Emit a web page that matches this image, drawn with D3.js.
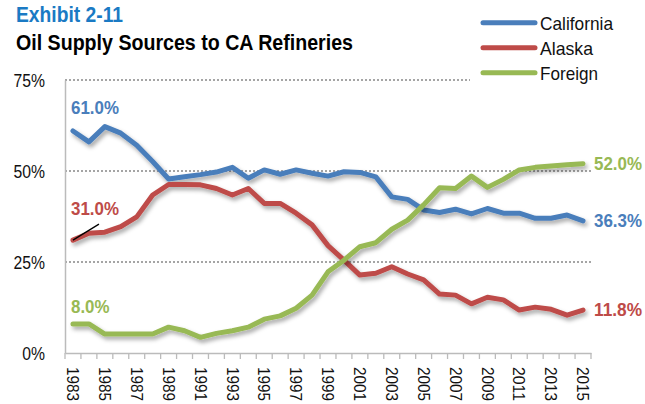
<!DOCTYPE html>
<html><head><meta charset="utf-8">
<script src="https://cdn.jsdelivr.net/npm/d3@7"></script>
<style>
html,body{margin:0;padding:0;background:#fff;}
svg{display:block;}
text{font-family:"Liberation Sans Narrow","Arial Narrow","Liberation Sans",Arial,sans-serif;}
</style></head>
<body>
<svg id="c" width="645" height="404"></svg>
<script>
const years = d3.range(1983, 2016).map(String);
const tickLabels = years.filter((y, i) => i % 2 === 0);
const california = [61.0,58.0,62.2,60.4,57.1,52.6,47.8,48.4,49.0,49.7,51.0,48.0,50.3,49.1,50.3,49.4,48.6,49.8,49.6,48.4,42.9,42.2,39.3,38.6,39.5,38.2,39.7,38.4,38.4,37.0,37.0,37.9,36.3];
const alaska = [31.0,32.9,33.2,34.7,37.4,43.4,46.3,46.3,46.2,45.2,43.4,45.2,41.1,41.1,38.4,35.2,29.5,25.5,21.4,21.9,23.7,21.7,20.1,16.2,15.9,13.5,15.3,14.6,11.8,12.6,12.0,10.4,11.8];
const foreign = [8.0,8.0,5.2,5.2,5.2,5.2,7.1,6.1,4.3,5.4,6.1,7.1,9.3,10.2,12.3,15.9,22.3,25.5,29.2,30.3,34.0,36.5,40.7,45.4,45.2,48.6,45.5,47.7,50.3,51.0,51.4,51.7,52.0];
const yTicks = [0, 25, 50, 75];
const seriesNames = ["California", "Alaska", "Foreign"];
const seriesColors = ["#4a7ebb", "#be4b48", "#98b954"];
const seriesData = [california, alaska, foreign];

const svg = d3.select("#c");
const mLeft = 65, mRight = 591, mTop = 80, mBottom = 353;
const x = d3.scaleBand().domain(years).range([mLeft, mRight]);
const y = d3.scaleLinear().domain([0, 75]).range([mBottom, mTop]);

// condense text to a width (narrow font look)
function squeeze(sel, ratio) {
  sel.each(function() {
    const w = this.getComputedTextLength();
    d3.select(this).attr("textLength", w * ratio).attr("lengthAdjust", "spacingAndGlyphs");
  });
}

const defs = svg.append("defs");
const f = defs.append("filter").attr("id","sh").attr("x","-10%").attr("y","-10%").attr("width","130%").attr("height","140%");
f.append("feDropShadow").attr("dx",2).attr("dy",3).attr("stdDeviation",2).attr("flood-color","#000").attr("flood-opacity",0.35);

// gridlines
svg.append("g").selectAll("line").data(yTicks.filter(d => d > 0)).join("line")
  .attr("x1", mLeft).attr("x2", mRight)
  .attr("y1", d => y(d)).attr("y2", d => y(d))
  .attr("stroke", "#888").attr("stroke-width", 1.3).attr("stroke-dasharray", "2,2");

// y axis
const ya = svg.append("g").attr("transform", `translate(${mLeft},0)`)
  .call(d3.axisLeft(y).tickValues(yTicks).tickSize(0).tickPadding(20).tickFormat(d => d + "%"));
ya.select(".domain").attr("stroke", "#bbb").attr("stroke-width", 1.5);
ya.selectAll("text").attr("font-size", 18.5).attr("fill", "#111").attr("dy", "0.33em");
squeeze(ya.selectAll("text"), 0.85);

// x axis
const xa = svg.append("g").attr("transform", `translate(0,${mBottom})`)
  .call(d3.axisBottom(x).tickValues(tickLabels).tickSize(0).tickPadding(0));
xa.select(".domain").attr("stroke", "#bbb").attr("stroke-width", 1.5);
xa.selectAll("text").attr("font-size", 16.5).attr("fill", "#111")
  .attr("text-anchor", "start").attr("transform", "rotate(90)")
  .attr("x", 14).attr("y", 0).attr("dy", "0.35em")
  .attr("textLength", 34).attr("lengthAdjust", "spacingAndGlyphs");
// boundary tick marks
svg.append("g").selectAll("line").data(d3.range(years.length + 1)).join("line")
  .attr("x1", i => mLeft + i * x.step()).attr("x2", i => mLeft + i * x.step())
  .attr("y1", mBottom).attr("y2", mBottom + 6)
  .attr("stroke", "#bbb").attr("stroke-width", 1.3);

// lines
const line = d3.line().x((d, i) => x(years[i]) + x.bandwidth() / 2).y(d => y(d));
seriesData.forEach((s, k) => {
  svg.append("path").datum(s).attr("d", line).attr("fill", "none")
    .attr("stroke", seriesColors[k]).attr("stroke-width", 5)
    .attr("stroke-linejoin", "round").attr("stroke-linecap", "round")
    .attr("filter", "url(#sh)");
});

// leader line for 31.0%
const cx0 = x(years[0]) + x.bandwidth() / 2;
svg.append("line").attr("x1", cx0).attr("y1", y(alaska[0]))
  .attr("x2", cx0 + 26).attr("y2", y(alaska[0]) - 16)
  .attr("stroke", "#000").attr("stroke-width", 1.3);

// value labels
const fmt = d => d.toFixed(1) + "%";
const startLabels = [
  {v: california[0], c: seriesColors[0], dy: -17},
  {v: alaska[0], c: seriesColors[1], dy: -25},
  {v: foreign[0], c: seriesColors[2], dy: -11}
];
startLabels.forEach(l => {
  svg.append("text").attr("class", "vl").attr("x", 71).attr("y", y(l.v) + l.dy)
    .attr("font-size", 19).attr("font-weight", "bold").attr("fill", l.c).text(fmt(l.v));
});
squeeze(svg.selectAll("text.vl"), 0.89);
const last = years.length - 1;
[[california, 0], [alaska, 1], [foreign, 2]].forEach(([s, k]) => {
  svg.append("text").attr("class", "vr").attr("x", 594).attr("y", y(s[last])).attr("dy", "0.36em")
    .attr("font-size", 17.8).attr("font-weight", "bold").attr("fill", seriesColors[k]).text(fmt(s[last]))
    .attr("textLength", 48).attr("lengthAdjust", "spacingAndGlyphs");
});

// legend
svg.append("rect").attr("x", 470).attr("y", 5).attr("width", 175).attr("height", 85).attr("fill", "#fff");
const legW = [73, 53, 58];
seriesNames.forEach((n, k) => {
  const yy = 22.7 + k * 25;
  svg.append("line").attr("x1", 483).attr("x2", 535).attr("y1", yy).attr("y2", yy)
    .attr("stroke", seriesColors[k]).attr("stroke-width", 5).attr("stroke-linecap", "round");
  svg.append("text").attr("x", 540).attr("y", yy).attr("dy", "0.36em")
    .attr("font-size", 19).attr("fill", "#111").text(n)
    .attr("textLength", legW[k]).attr("lengthAdjust", "spacingAndGlyphs");
});

// titles
svg.append("text").attr("x", 16).attr("y", 22).attr("font-size", 21.5).attr("font-weight", "bold")
  .attr("fill", "#1a7ac4").text("Exhibit 2-11")
  .attr("textLength", 107).attr("lengthAdjust", "spacingAndGlyphs");
svg.append("text").attr("x", 16).attr("y", 50).attr("font-size", 21.5).attr("font-weight", "bold")
  .attr("fill", "#000").text("Oil Supply Sources to CA Refineries")
  .attr("textLength", 337).attr("lengthAdjust", "spacingAndGlyphs");
</script>
</body></html>
